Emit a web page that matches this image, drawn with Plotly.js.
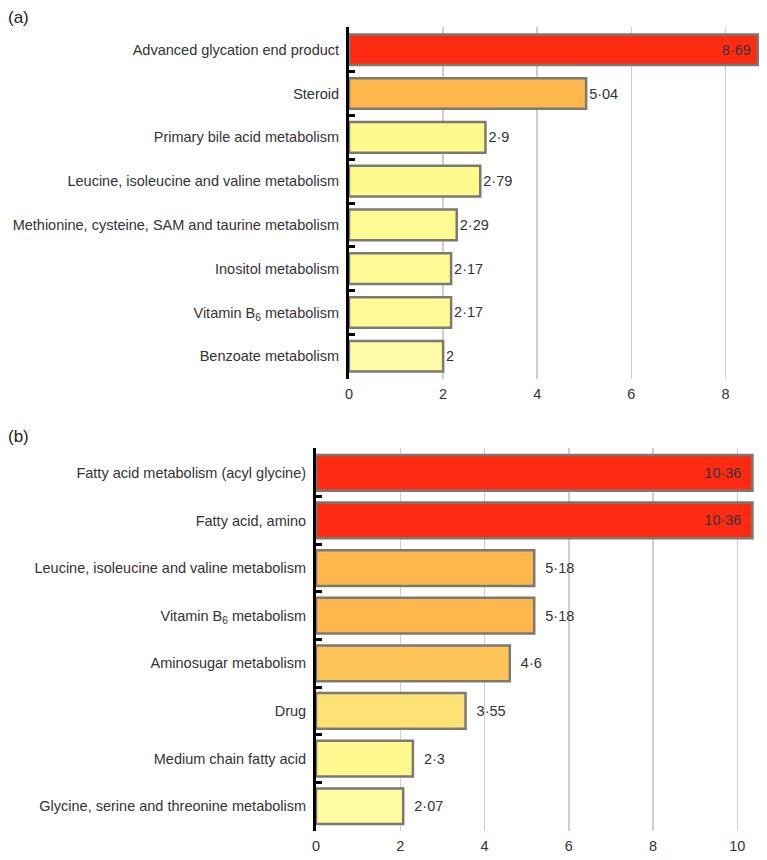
<!DOCTYPE html>
<html>
<head>
<meta charset="utf-8">
<script src="https://cdn.plot.ly/plotly-3.0.1.min.js"></script>
<style>html,body{margin:0;padding:0;background:#fff;}#chart{width:767px;height:860px;}</style>
</head>
<body>
<div id="chart"></div>
<script>
// Panel (a)
const catsA = [
  "Advanced glycation end product",
  "Steroid",
  "Primary bile acid metabolism",
  "Leucine, isoleucine and valine metabolism",
  "Methionine, cysteine, SAM and taurine metabolism",
  "Inositol metabolism",
  "Vitamin B<sub>6</sub> metabolism",
  "Benzoate metabolism"
];
const valsA = [8.69, 5.04, 2.9, 2.79, 2.29, 2.17, 2.17, 2];
const colorsA = ["#ff2a12", "#ffb64a", "#fffa8c", "#fffa8c", "#fffa92", "#fffa96", "#fffa96", "#fffba6"];

// Panel (b)
const catsB = [
  "Fatty acid metabolism (acyl glycine)",
  "Fatty acid, amino",
  "Leucine, isoleucine and valine metabolism",
  "Vitamin B<sub>6</sub> metabolism",
  "Aminosugar metabolism",
  "Drug",
  "Medium chain fatty acid",
  "Glycine, serine and threonine metabolism"
];
const valsB = [10.36, 10.36, 5.18, 5.18, 4.6, 3.55, 2.3, 2.07];
const colorsB = ["#ff2a12", "#ff2a12", "#ffb64a", "#ffb64a", "#ffc458", "#ffe276", "#fff88e", "#fffba2"];

const xTicksA = [0, 2, 4, 6, 8];
const xTicksB = [0, 2, 4, 6, 8, 10];

const fmt = v => String(v).replace('.', '\u00b7');
const redThreshold = 8;
const FAM = 'Liberation Sans, Arial, sans-serif';
const FS = 14.5;

function barTrace(cats, vals, colors, xa, ya, gap, tail) {
  const tf = {family: FAM, size: FS, color: '#333'};
  return {
    type: 'bar', orientation: 'h',
    y: cats, x: vals,
    xaxis: xa, yaxis: ya,
    text: vals.map(v => v > redThreshold ? fmt(v) + tail : gap + fmt(v)),
    textposition: vals.map(v => v > redThreshold ? 'inside' : 'outside'),
    insidetextanchor: 'end',
    textfont: tf, insidetextfont: tf, outsidetextfont: tf,
    cliponaxis: false,
    constraintext: 'none',
    marker: {color: colors, line: {color: '#7a7a72', width: 2.5}},
    hoverinfo: 'skip',
    showlegend: false
  };
}

const tA = barTrace(catsA, valsA, colorsA, 'x', 'y', '', '\u00a0');
tA.width = 0.7;
const tB = barTrace(catsB, valsB, colorsB, 'x2', 'y2', '\u00a0\u00a0', '\u00a0\u00a0');
tB.width = 0.75;

const font = {family: FAM, size: FS, color: '#333'};

function xaxis(range, domain, ticks, anchor) {
  return {
    domain: domain, range: range, anchor: anchor,
    tickvals: ticks, ticktext: ticks.map(String),
    showgrid: true, gridcolor: '#cfcfcf', gridwidth: 1.5,
    zeroline: false, showline: false, ticks: '',
    ticklabelstandoff: 4,
    tickfont: font, fixedrange: true
  };
}
function yaxis(domain, anchor, n) {
  return {
    domain: domain, anchor: anchor, type: 'category',
    range: [n - 0.48, -0.52],
    showline: true, linecolor: '#000', linewidth: 3,
    ticks: 'inside', tickson: 'boundaries', ticklen: 6, tickwidth: 3, tickcolor: '#000',
    ticklabelstandoff: 4,
    showgrid: false, zeroline: false,
    tickfont: font, fixedrange: true
  };
}

const layout = {
  width: 767, height: 860,
  margin: {l: 0, r: 0, t: 0, b: 0},
  paper_bgcolor: '#fff', plot_bgcolor: 'rgba(0,0,0,0)',
  font: font,
  xaxis: xaxis([0, 8.72], [0.455, 0.99], xTicksA, 'y'),
  yaxis: yaxis([0.5593, 0.9686], 'x', catsA.length),
  xaxis2: xaxis([0, 10.45], [0.412, 0.986], xTicksB, 'y2'),
  yaxis2: yaxis([0.0337, 0.479], 'x2', catsB.length),
  annotations: [
    {text: '(a)', xref: 'paper', yref: 'paper', x: 6/767, y: 1 - 18/860, xanchor: 'left', yanchor: 'middle', showarrow: false, font: {family: FAM, size: 17, color: '#222'}},
    {text: '(b)', xref: 'paper', yref: 'paper', x: 6/767, y: 1 - 437/860, xanchor: 'left', yanchor: 'middle', showarrow: false, font: {family: FAM, size: 17, color: '#222'}}
  ]
};

Plotly.newPlot('chart', [tA, tB], layout, {displayModeBar: false, staticPlot: true});
</script>
</body>
</html>
